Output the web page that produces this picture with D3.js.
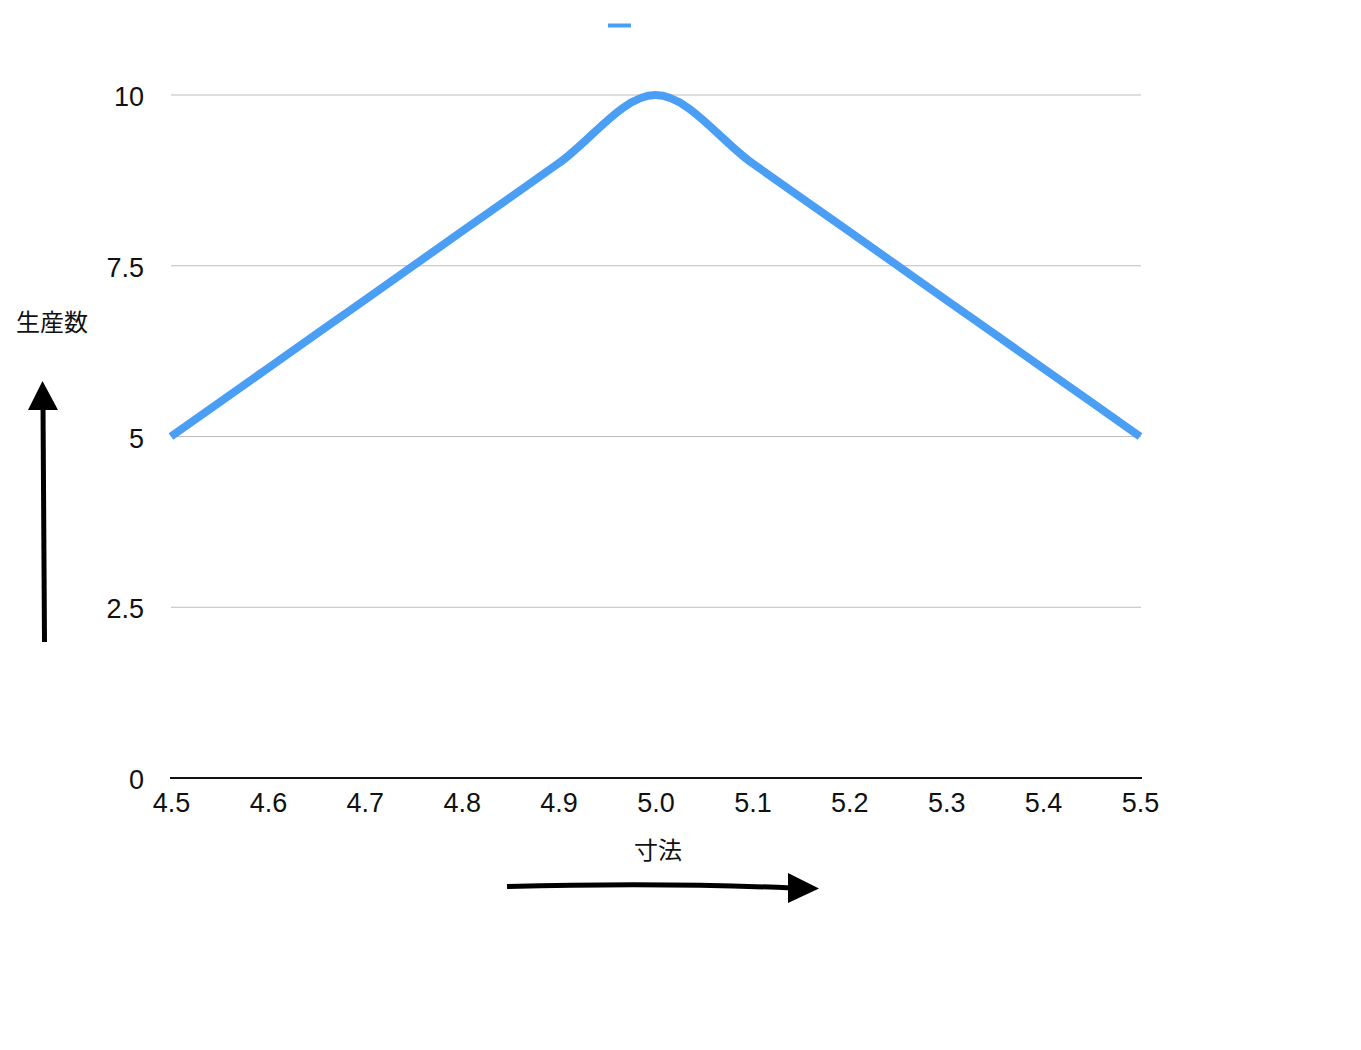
<!DOCTYPE html>
<html><head><meta charset="utf-8">
<script src="https://cdn.jsdelivr.net/npm/d3@7"></script>
<style>body{margin:0;background:#fff}svg{display:block}</style>
</head><body>
<script>
const sizes = [4.5, 4.6, 4.7, 4.8, 4.9, 5.0, 5.1, 5.2, 5.3, 5.4, 5.5];
const counts = [5, 6, 7, 8, 9, 10, 9, 8, 7, 6, 5];
const xTickLabels = ["4.5","4.6","4.7","4.8","4.9","5.0","5.1","5.2","5.3","5.4","5.5"];
const yTicks = [0, 2.5, 5, 7.5, 10];
const yTickLabels = ["0","2.5","5","7.5","10"];
const xTitle = "寸法";
const yTitle = "生産数";
const seriesName = "";

const W = 1361, H = 1050;
const font = "'Noto Sans CJK JP','Noto Sans',sans-serif";
const numFont = "'Liberation Sans','Noto Sans',sans-serif";
const svg = d3.select("body").append("svg").attr("width", W).attr("height", H);
const x = d3.scaleLinear().domain([4.5, 5.5]).range([171, 1140]);
const y = d3.scaleLinear().domain([0, 10]).range([778, 95]);

// grid
svg.append("g").selectAll("line").data(yTicks.filter(d => d > 0)).join("line")
  .attr("x1", 171).attr("x2", 1141).attr("y1", d => y(d)).attr("y2", d => y(d))
  .attr("stroke", "#bdbdbd").attr("stroke-width", 1);

// y axis labels
const yAxis = d3.axisLeft(y).tickValues(yTicks).tickFormat((d, i) => yTickLabels[i]).tickSize(0).tickPadding(0);
const gy = svg.append("g").attr("transform", "translate(144,0)").call(yAxis);
gy.select(".domain").remove();
gy.selectAll("text").attr("font-family", numFont).attr("font-size", 27).attr("fill", "#111")
  .attr("dy", 0).attr("y", 10.5);

// x axis
const xAxis = d3.axisBottom(x).tickValues(sizes).tickFormat((d, i) => xTickLabels[i]).tickSize(0).tickPadding(0);
const gx = svg.append("g").attr("transform", "translate(0,778)").call(xAxis);
gx.select(".domain").remove();
gx.selectAll("text").attr("font-family", numFont).attr("font-size", 27).attr("fill", "#111")
  .attr("dy", 0).attr("y", 34);
svg.append("line").attr("x1", 170).attr("x2", 1142).attr("y1", y(0)).attr("y2", y(0))
  .attr("stroke", "#111").attr("stroke-width", 2.2);

// line
const line = d3.line().x((d, i) => x(sizes[i])).y(d => y(d)).curve(d3.curveMonotoneX);
svg.append("path").datum(counts).attr("d", line).attr("fill", "none")
  .attr("stroke", "#4a9ff5").attr("stroke-width", 8);

// legend
svg.append("line").attr("x1", 608).attr("x2", 631).attr("y1", 25.5).attr("y2", 25.5)
  .attr("stroke", "#4a9ff5").attr("stroke-width", 4);
svg.append("text").attr("x", 636).attr("y", 33).text(seriesName).attr("font-family", font).attr("font-size", 20);

// titles
svg.append("text").attr("x", 16).attr("y", 331).text(yTitle)
  .attr("font-family", font).attr("font-size", 24).attr("fill", "#111");
svg.append("text").attr("x", 658).attr("y", 859).attr("text-anchor", "middle").text(xTitle)
  .attr("font-family", font).attr("font-size", 24).attr("fill", "#111");

// arrows
svg.append("line").attr("x1", 44.5).attr("y1", 642).attr("x2", 43).attr("y2", 405)
  .attr("stroke", "#000").attr("stroke-width", 5);
svg.append("path").attr("d", "M42.5,381 L58,410 L28,410 Z").attr("fill", "#000");
svg.append("path").attr("d", "M507,886.5 C600,884 700,884 792,888").attr("fill", "none")
  .attr("stroke", "#000").attr("stroke-width", 5);
svg.append("path").attr("d", "M819,888.5 L788,873 L788,903 Z").attr("fill", "#000");
</script>
</body></html>
